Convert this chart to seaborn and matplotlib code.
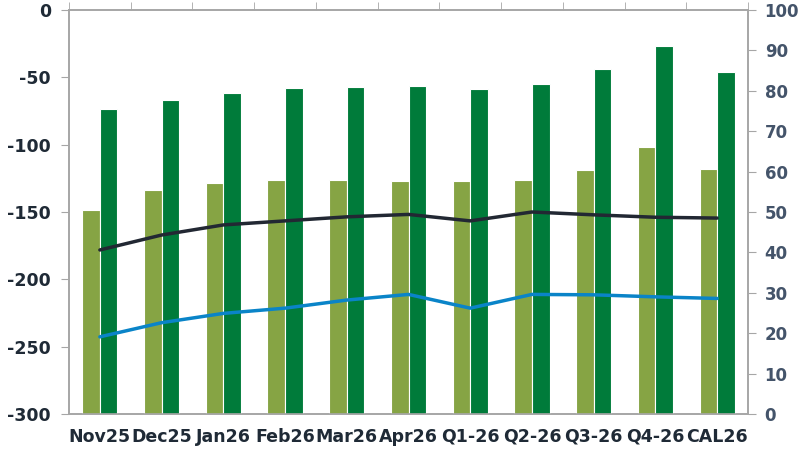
import numpy as np
import pandas as pd
import matplotlib
matplotlib.use("Agg")
import matplotlib.pyplot as plt
import seaborn as sns

# Data (right axis scale 0-100)
periods = ['Nov25', 'Dec25', 'Jan26', 'Feb26', 'Mar26', 'Apr26',
           'Q1-26', 'Q2-26', 'Q3-26', 'Q4-26', 'CAL26']
light_bars = [50.4, 55.4, 57.2, 57.9, 57.9, 57.7, 57.7, 57.9, 60.4, 66.2, 60.6]
dark_bars = [75.5, 77.8, 79.5, 80.7, 81.0, 81.2, 80.4, 81.7, 85.4, 91.0, 84.7]
black_line = [40.6, 44.3, 46.8, 47.8, 48.8, 49.4, 47.8, 50.0, 49.3, 48.7, 48.5]
blue_line = [19.1, 22.6, 24.9, 26.2, 28.2, 29.6, 26.2, 29.6, 29.5, 29.0, 28.6]

left_ticks = [0, -50, -100, -150, -200, -250, -300]
right_ticks = [0, 10, 20, 30, 40, 50, 60, 70, 80, 90, 100]

light_col = '#86A444'
dark_col = '#007B3A'
black_col = '#222833'
blue_col = '#0A84C8'
spine_col = '#A6A6A6'

bars = pd.DataFrame({
    'period': periods * 2,
    'series': ['light'] * len(periods) + ['dark'] * len(periods),
    'value': light_bars + dark_bars,
})

sns.set_style('white')
plt.rcParams['font.family'] = ['DejaVu Sans']
plt.rcParams['axes.unicode_minus'] = False

fig = plt.figure(figsize=(8.02, 4.5), dpi=100)
ax = fig.add_axes([69 / 802, 1 - 414 / 450, (748 - 69) / 802, (414 - 10) / 450])
ax2 = ax.twinx()

sns.barplot(data=bars, x='period', y='value', hue='series',
            hue_order=['light', 'dark'], palette=[light_col, dark_col],
            saturation=1, width=0.57, edgecolor='white', linewidth=0.8,
            legend=False, ax=ax2)

x = np.arange(len(periods))
sns.lineplot(x=x, y=black_line, color=black_col, linewidth=2.5, ax=ax2)
sns.lineplot(x=x, y=blue_line, color=blue_col, linewidth=2.5, ax=ax2)

ax.set_ylim(-300, 0)
ax.set_yticks(left_ticks)
ax2.set_ylim(0, 100)
ax2.set_yticks(right_ticks)
ax2.set_xlim(-0.5, len(periods) - 0.5)

ax.set_xticks(x)
ax.set_xticklabels(periods)
ax.set_xticks(np.arange(-0.5, len(periods), 1), minor=True)
ax.tick_params(axis='x', which='major', length=0, pad=10,
               labelsize=12.5, labelcolor='#1F2A36')
ax.tick_params(axis='x', which='minor', top=True, bottom=False,
               direction='out', length=6, color=spine_col)
ax.tick_params(axis='y', length=6, direction='out', color=spine_col,
               pad=7, labelsize=12.5, labelcolor='#1F2A36', left=True)
ax2.tick_params(axis='y', length=6, direction='out', color=spine_col,
                pad=6, labelsize=12, labelcolor='#44546A', right=True)

for lbl in ax.get_xticklabels() + ax.get_yticklabels() + ax2.get_yticklabels():
    lbl.set_fontweight('bold')

ax.set_xlabel('')
ax.set_ylabel('')
ax2.set_xlabel('')
ax2.set_ylabel('')

for a in (ax, ax2):
    for s in a.spines.values():
        s.set_color(spine_col)
        s.set_linewidth(1.2)

fig.savefig('out.png', dpi=100)
